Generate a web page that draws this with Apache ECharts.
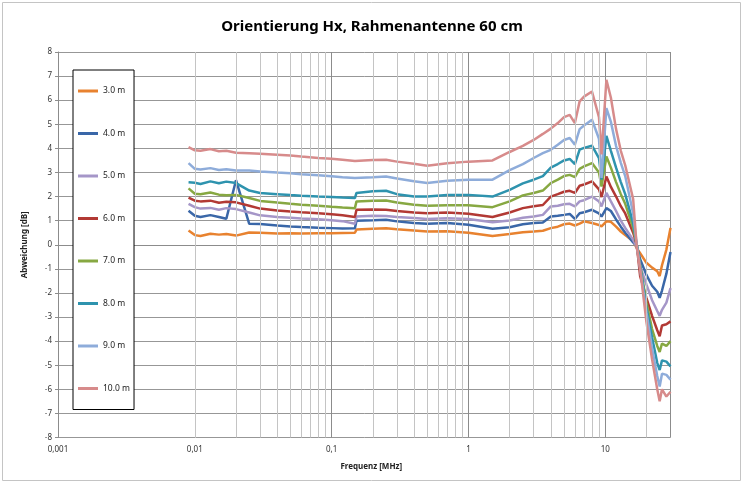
<!DOCTYPE html>
<html>
<head>
<meta charset="utf-8">
<script src="https://cdn.jsdelivr.net/npm/echarts@6/dist/echarts.min.js"></script>
<style>
html, body { margin: 0; padding: 0; background: #fff; }
#main { width: 744px; height: 484px; }
</style>
</head>
<body>
<div id="main"></div>
<script>
// Frequenz [MHz]
var freq = [0.009, 0.01, 0.011, 0.013, 0.015, 0.017, 0.02, 0.025, 0.03, 0.04, 0.05, 0.06, 0.08, 0.1, 0.12, 0.148, 0.152,
    0.2, 0.25, 0.3, 0.4, 0.5, 0.7, 1, 1.5, 2, 2.5, 3, 3.5, 4, 4.5, 5, 5.5, 6, 6.5, 7, 8, 9, 9.4, 10.2,
    11, 12, 13, 14, 16, 17, 18, 20, 22, 24, 25, 26, 28, 30];

// Abweichung [dB] je Abstand
var d3m = [0.59, 0.40, 0.36, 0.46, 0.42, 0.45, 0.38, 0.51, 0.50, 0.47, 0.48, 0.47, 0.48, 0.48, 0.49, 0.50, 0.63,
    0.66, 0.68, 0.64, 0.59, 0.55, 0.56, 0.50, 0.36, 0.45, 0.52, 0.55, 0.58, 0.69, 0.75, 0.85, 0.88, 0.80, 0.88, 0.97, 0.90, 0.82, 0.76, 0.97,
    0.95, 0.75, 0.55, 0.40, 0.15, -0.14, -0.35, -0.75, -0.95, -1.1, -1.3, -0.85, -0.2, 0.7];
var d4m = [1.41, 1.20, 1.15, 1.23, 1.15, 1.08, 2.68, 0.87, 0.86, 0.80, 0.76, 0.74, 0.71, 0.69, 0.67, 0.68, 1.00,
    1.02, 1.04, 0.97, 0.90, 0.87, 0.90, 0.83, 0.66, 0.73, 0.85, 0.90, 0.92, 1.17, 1.20, 1.24, 1.28, 1.07, 1.31, 1.35, 1.45, 1.30, 1.17, 1.52,
    1.40, 1.05, 0.75, 0.50, 0.10, -0.05, -0.6, -1.25, -1.7, -1.95, -2.2, -1.9, -1.2, -0.3];
var d5m = [1.70, 1.56, 1.50, 1.53, 1.45, 1.52, 1.48, 1.34, 1.22, 1.15, 1.12, 1.09, 1.06, 1.02, 0.98, 0.87, 1.17,
    1.20, 1.19, 1.15, 1.11, 1.07, 1.10, 1.07, 0.93, 1.01, 1.12, 1.17, 1.24, 1.59, 1.62, 1.68, 1.70, 1.59, 1.80, 1.85, 2.00, 1.80, 1.59, 2.15,
    1.80, 1.40, 1.00, 0.70, 0.20, -0.1, -0.9, -1.65, -2.3, -2.75, -2.95, -2.7, -2.4, -1.8];
var d6m = [1.96, 1.83, 1.80, 1.83, 1.74, 1.78, 1.76, 1.62, 1.50, 1.42, 1.38, 1.35, 1.31, 1.27, 1.22, 1.15, 1.45,
    1.46, 1.45, 1.40, 1.34, 1.31, 1.34, 1.29, 1.15, 1.34, 1.52, 1.60, 1.65, 2.00, 2.10, 2.20, 2.24, 2.15, 2.45, 2.50, 2.63, 2.30, 1.98, 2.83,
    2.40, 2.00, 1.60, 1.30, 0.50, 0.0, -1.3, -2.2, -2.95, -3.55, -3.8, -3.35, -3.3, -3.18];
var d7m = [2.34, 2.12, 2.10, 2.17, 2.08, 2.05, 2.07, 1.94, 1.82, 1.75, 1.70, 1.66, 1.62, 1.58, 1.55, 1.52, 1.80,
    1.83, 1.84, 1.75, 1.66, 1.62, 1.64, 1.64, 1.56, 1.80, 2.05, 2.15, 2.25, 2.56, 2.70, 2.85, 2.90, 2.81, 3.15, 3.25, 3.39, 3.00, 2.42, 3.66,
    3.20, 2.60, 2.10, 1.70, 0.70, 0.0, -0.85, -2.4, -3.5, -4.2, -4.45, -4.1, -4.2, -4.0];
var d8m = [2.59, 2.57, 2.52, 2.63, 2.55, 2.62, 2.56, 2.25, 2.15, 2.10, 2.06, 2.03, 2.00, 1.98, 1.96, 1.94, 2.15,
    2.22, 2.24, 2.10, 2.00, 2.00, 2.06, 2.07, 2.00, 2.28, 2.55, 2.70, 2.85, 3.20, 3.35, 3.50, 3.56, 3.35, 3.95, 4.02, 4.11, 3.60, 2.70, 4.52,
    3.90, 3.20, 2.60, 2.10, 0.90, 0.0, -0.9, -2.6, -3.85, -4.9, -5.2, -4.8, -4.85, -5.05];
var d9m = [3.39, 3.15, 3.12, 3.18, 3.10, 3.13, 3.08, 3.08, 3.04, 3.00, 2.97, 2.93, 2.88, 2.84, 2.80, 2.77, 2.78,
    2.80, 2.83, 2.75, 2.64, 2.56, 2.66, 2.70, 2.70, 3.10, 3.35, 3.60, 3.80, 3.94, 4.15, 4.35, 4.43, 4.15, 4.80, 4.95, 5.19, 4.40, 2.77, 5.67,
    5.10, 4.10, 3.40, 2.85, 1.30, 0.0, -1.0, -2.8, -4.3, -5.45, -5.88, -5.35, -5.4, -5.6];
var d10m = [4.05, 3.92, 3.90, 3.97, 3.88, 3.90, 3.82, 3.80, 3.78, 3.74, 3.70, 3.66, 3.60, 3.57, 3.53, 3.48, 3.52,
    3.52, 3.53, 3.45, 3.36, 3.28, 3.38, 3.45, 3.50, 3.85, 4.10, 4.35, 4.60, 4.82, 5.05, 5.30, 5.39, 5.05, 5.95, 6.15, 6.36, 5.30, 3.75, 6.85,
    6.10, 4.80, 3.90, 3.30, 1.90, -0.1, -1.0, -3.2, -4.75, -6.0, -6.5, -6.0, -6.3, -6.1];

var names = ['3.0 m', '4.0 m', '5.0 m', '6.0 m', '7.0 m', '8.0 m', '9.0 m', '10.0 m'];
var values = [d3m, d4m, d5m, d6m, d7m, d8m, d9m, d10m];
var colors = ['#E8822F', '#3A67A8', '#A596C8', '#B23934', '#87A842', '#2E93AE', '#8EACDA', '#D78B8B'];

var font = '"Noto Sans", sans-serif';

// minor vertical grid lines 2..9 per decade
var minorX = [];
for (var e = -3; e <= 1; e++) {
    for (var k = 2; k <= 9; k++) {
        var v = k * Math.pow(10, e);
        if (v < 30) minorX.push({ xAxis: v });
    }
}

var chart = echarts.init(document.getElementById('main'));

var series = [{
    name: 'grid',
    type: 'line',
    data: [],
    z: 1,
    silent: true,
    markLine: {
        silent: true,
        symbol: ['none', 'none'],
        animation: false,
        label: { show: false },
        lineStyle: { color: '#c4c4c4', width: 1, type: 'solid' },
        emphasis: { disabled: true },
        data: minorX
    }
}];
for (var i = 0; i < names.length; i++) {
    series.push({
        name: names[i],
        type: 'line',
        symbol: 'none',
        animation: false,
        color: colors[i],
        lineStyle: { width: 2.5, color: colors[i] },
        data: freq.map(function (f, j) { return [f, values[i][j]]; })
    });
}

function fmtLog(v) {
    var l = Math.log10(v);
    var e = Math.round(l);
    if (Math.abs(l - e) > 1e-6) return '';
    if (e < 0) return '0,' + new Array(-e).join('0') + '1';
    return String(Math.pow(10, e));
}

chart.setOption({
    backgroundColor: '#fff',
    animation: false,
    title: {
        text: 'Orientierung Hx, Rahmenantenne 60 cm',
        left: 'center',
        top: 14,
        textStyle: { fontFamily: font, fontSize: 15, fontWeight: 'bold', color: '#000' }
    },
    graphic: [{
        type: 'rect',
        shape: { x: 2.5, y: 2.5, width: 738, height: 478 },
        style: { fill: 'none', stroke: '#c4c4c4', lineWidth: 1 },
        silent: true
    }],
    legend: {
        data: names,
        orient: 'vertical',
        left: 73,
        top: 70,
        padding: [14, 4, 14, 5],
        itemGap: 28.5,
        itemWidth: 20,
        itemHeight: 3,
        icon: 'rect',
        borderColor: '#000',
        borderWidth: 1,
        backgroundColor: '#fff',
        textStyle: { fontFamily: font, fontSize: 8.5, color: '#222', lineHeight: 14 }
    },
    grid: { left: 58, right: 73.5, top: 52, bottom: 46.5, containLabel: false },
    xAxis: {
        type: 'log',
        logBase: 10,
        min: 0.001,
        max: 30,
        name: 'Frequenz [MHz]',
        nameLocation: 'middle',
        nameGap: 25,
        nameTextStyle: { fontFamily: font, fontSize: 8, fontWeight: 'bold', color: '#222', padding: [0, 0, 0, 14] },
        axisLine: { show: true, lineStyle: { color: '#8c8c8c' } },
        axisTick: { show: true, length: 3, lineStyle: { color: '#8c8c8c' } },
        axisLabel: { fontFamily: font, fontSize: 8, color: '#333', margin: 8, formatter: fmtLog, showMaxLabel: false },
        splitLine: { show: true, lineStyle: { color: '#8c8c8c', width: 1 } },
        minorTick: { show: false },
        minorSplitLine: { show: false }
    },
    yAxis: {
        type: 'value',
        min: -8,
        max: 8,
        interval: 1,
        name: 'Abweichung [dB]',
        nameLocation: 'middle',
        nameGap: 29,
        nameTextStyle: { fontFamily: font, fontSize: 8, fontWeight: 'bold', color: '#222' },
        axisLine: { show: true, lineStyle: { color: '#8c8c8c' } },
        axisTick: { show: true, length: 3, lineStyle: { color: '#8c8c8c' } },
        axisLabel: { fontFamily: font, fontSize: 8, color: '#333', margin: 6 },
        splitLine: { show: true, lineStyle: { color: '#979797', width: 1 } }
    },
    series: series
});
</script>
</body>
</html>
